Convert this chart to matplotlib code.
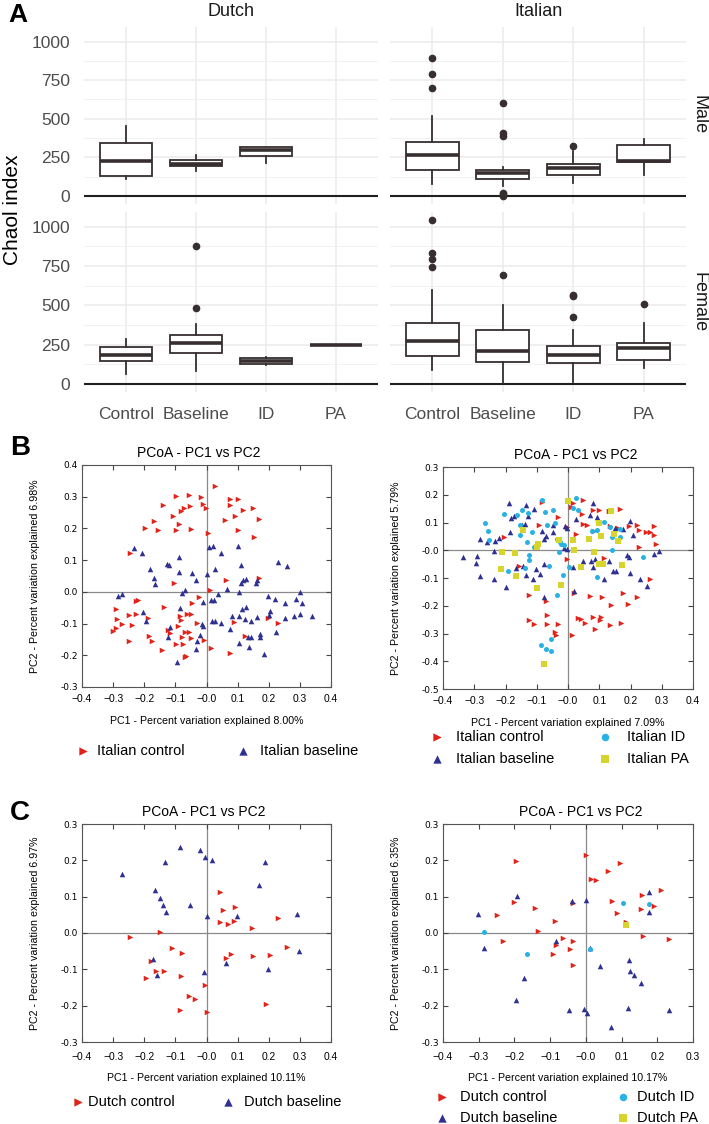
import matplotlib.pyplot as plt
import numpy as np

W, H = 709, 1124
plt.rcParams["font.family"] = ["Liberation Sans", "DejaVu Sans"]
NARROW = ["Liberation Sans Narrow", "Liberation Sans", "DejaVu Sans"]

# ---- panel A: Chao1 boxplots (whislo, q1, med, q3, whishi) ----
groups = ["Control", "Baseline", "ID", "PA"]
dutch_male = [[110, 130, 228, 340, 455], [160, 192, 205, 230, 265], [215, 258, 300, 315, 318]]
dutch_male_fliers = [[], [], []]
italian_male = [[80, 170, 265, 350, 520], [65, 110, 150, 165, 185],
                [85, 135, 180, 210, 290], [135, 218, 228, 330, 370]]
italian_male_fliers = [[700, 790, 895], [0, 10, 22, 390, 405, 600], [322], []]
dutch_female = [[60, 145, 182, 232, 285], [80, 195, 260, 312, 380],
                [118, 125, 145, 162, 168], [245, 245, 245, 245, 245]]
dutch_female_fliers = [[], [480, 875], [], []]
italian_female = [[90, 180, 273, 385, 595], [5, 140, 210, 342, 500],
                  [10, 135, 185, 240, 340], [100, 150, 225, 263, 385]]
italian_female_fliers = [[742, 792, 830, 1042], [696], [424, 561, 567], [506]]
chao_ticks = [0, 250, 500, 750, 1000]

# ---- panel B: Italian PCoA ----
b1_control = [(0.026, 0.335), (-0.099, 0.303), (-0.057, 0.306), (-0.017, 0.300), (0.074, 0.292),
              (0.102, 0.294), (0.075, 0.274), (-0.140, 0.274), (-0.054, 0.272), (-0.010, 0.276),
              (-0.003, 0.263), (-0.071, 0.263), (-0.081, 0.256), (0.149, 0.263), (0.116, 0.259),
              (0.091, 0.240), (-0.107, 0.239), (-0.170, 0.225), (0.059, 0.228), (0.168, 0.231),
              (-0.089, 0.213), (-0.197, 0.202), (-0.156, 0.194), (-0.097, 0.196), (-0.049, 0.197),
              (0.102, 0.194), (0.005, 0.187), (0.154, 0.173), (-0.246, 0.121), (-0.106, 0.027),
              (0.063, 0.038), (0.168, 0.044), (0.011, 0.006), (-0.228, -0.029), (-0.220, -0.025),
              (-0.292, -0.053), (-0.137, -0.047), (-0.025, -0.017), (-0.048, -0.036), (-0.249, -0.072),
              (-0.228, -0.069), (-0.288, -0.085), (-0.271, -0.101), (-0.292, -0.114), (-0.299, -0.123),
              (-0.238, -0.103), (-0.188, -0.082), (-0.184, -0.139), (-0.174, -0.156), (-0.248, -0.154),
              (-0.086, -0.076), (-0.062, -0.069), (-0.049, -0.069), (-0.082, -0.089), (-0.092, -0.107),
              (-0.124, -0.119), (-0.070, -0.126), (-0.055, -0.126), (-0.080, -0.142), (-0.051, -0.147),
              (-0.098, -0.164), (-0.075, -0.164), (-0.144, -0.184), (-0.065, -0.203), (-0.009, -0.153),
              (0.016, -0.177), (-0.029, -0.097), (0.087, -0.095), (0.125, -0.138), (0.230, -0.098),
              (0.198, -0.083), (0.075, -0.193), (-0.116, -0.131), (-0.070, -0.205)]
b1_baseline = [(-0.233, 0.137), (-0.207, 0.123), (0.007, 0.140), (0.020, 0.144), (0.045, 0.123),
               (0.102, 0.144), (-0.126, 0.087), (-0.120, 0.086), (-0.089, 0.111), (-0.180, 0.072),
               (-0.168, 0.044), (-0.164, 0.024), (-0.087, 0.064), (-0.047, 0.058), (-0.035, 0.036),
               (0.001, 0.055), (0.027, 0.071), (0.111, 0.086), (0.111, 0.028), (0.117, 0.037),
               (0.127, 0.041), (0.158, 0.028), (0.163, 0.036), (0.231, 0.093), (0.260, 0.083),
               (-0.283, -0.012), (-0.270, -0.008), (-0.068, 0.005), (-0.079, -0.004), (-0.011, -0.032),
               (0.016, -0.026), (0.025, -0.025), (0.037, -0.008), (0.065, 0.008), (0.104, 0.000),
               (0.198, -0.014), (0.221, -0.023), (0.253, -0.036), (0.286, -0.021), (0.299, -0.001),
               (0.308, -0.034), (0.339, -0.075), (0.299, -0.071), (0.282, -0.076), (0.252, -0.084),
               (0.203, -0.059), (0.200, -0.072), (0.163, -0.078), (0.128, -0.048), (0.114, -0.053),
               (0.104, -0.077), (0.082, -0.077), (0.124, -0.087), (0.144, -0.092), (0.018, -0.091),
               (0.027, -0.093), (0.047, -0.097), (-0.016, -0.101), (-0.012, -0.108), (-0.086, -0.052),
               (-0.203, -0.065), (-0.193, -0.092), (-0.116, -0.111), (-0.125, -0.142), (-0.030, -0.156),
               (-0.022, -0.135), (0.077, -0.118), (0.104, -0.160), (0.133, -0.142), (0.144, -0.142),
               (0.171, -0.134), (0.171, -0.143), (0.223, -0.128), (0.138, -0.174), (0.184, -0.196),
               (-0.035, -0.179), (-0.094, -0.220)]

b2_control = [(-0.084, 0.174), (0.015, 0.172), (0.047, 0.180), (0.009, 0.155), (0.046, 0.130),
              (0.080, 0.144), (0.100, 0.144), (0.132, 0.142), (0.167, 0.150), (0.049, 0.096),
              (0.060, 0.092), (0.083, 0.071), (0.133, 0.088), (0.161, 0.080), (0.194, 0.086),
              (0.220, 0.092), (0.227, 0.072), (0.249, 0.064), (0.261, 0.064), (0.274, 0.088),
              (0.274, 0.054), (0.282, 0.024), (0.227, 0.011), (0.025, 0.059), (-0.003, 0.082),
              (-0.031, 0.120), (-0.093, 0.092), (-0.204, 0.046), (-0.157, -0.055), (-0.002, -0.032),
              (0.114, -0.029), (0.261, -0.103), (-0.124, -0.163), (-0.071, -0.182), (0.018, -0.154),
              (0.071, -0.166), (0.110, -0.167), (0.138, -0.199), (0.177, -0.155), (0.193, -0.193),
              (0.222, -0.169), (-0.067, -0.235), (-0.124, -0.252), (-0.110, -0.264), (-0.068, -0.267),
              (-0.032, -0.267), (0.032, -0.245), (0.043, -0.248), (0.079, -0.241), (0.107, -0.240),
              (0.102, -0.252), (0.055, -0.262), (0.085, -0.282), (0.133, -0.269), (0.169, -0.263),
              (-0.043, -0.293), (-0.038, -0.304), (0.012, -0.306)]
b2_baseline = [(-0.189, 0.170), (-0.135, 0.162), (-0.108, 0.150), (-0.182, 0.116), (-0.173, 0.124),
               (-0.127, 0.122), (-0.138, 0.096), (-0.148, 0.092), (-0.282, 0.040), (-0.260, 0.028),
               (-0.234, 0.035), (-0.221, 0.043), (-0.185, 0.064), (-0.236, -0.002), (-0.335, -0.026),
               (-0.290, -0.019), (-0.295, -0.046), (-0.281, -0.092), (-0.236, -0.102), (-0.199, -0.134),
               (-0.166, -0.064), (-0.144, -0.056), (-0.134, -0.090), (-0.111, -0.103), (-0.102, -0.067),
               (-0.091, -0.084), (-0.076, -0.049), (-0.083, 0.070), (-0.072, 0.053), (-0.077, 0.041),
               (-0.049, 0.065), (-0.010, 0.088), (-0.003, 0.080), (-0.014, 0.008), (-0.004, 0.006),
               (-0.048, 0.092), (0.025, 0.114), (0.080, 0.169), (0.069, 0.126), (0.093, 0.120),
               (0.151, 0.079), (0.198, 0.104), (0.209, 0.054), (0.175, 0.076), (0.049, -0.040),
               (0.081, -0.062), (0.073, -0.038), (0.131, -0.038), (0.144, -0.076), (0.154, -0.076),
               (0.115, -0.104), (0.188, -0.017), (0.194, -0.026), (0.198, -0.082), (0.230, -0.104),
               (0.252, -0.128), (0.276, -0.012), (0.291, -0.001), (0.020, -0.148), (-0.076, -0.170),
               (0.017, -0.062), (0.086, -0.031)]
b2_id = [(-0.083, 0.182), (0.026, 0.190), (0.017, 0.154), (-0.164, 0.128), (-0.205, 0.130),
         (-0.148, 0.146), (-0.128, 0.133), (-0.073, 0.139), (-0.047, 0.144), (-0.267, 0.100),
         (-0.256, 0.070), (-0.254, 0.036), (-0.154, 0.090), (-0.154, 0.055), (-0.130, 0.028),
         (-0.116, 0.067), (-0.110, 0.010), (-0.066, 0.090), (-0.041, 0.098), (-0.034, 0.042),
         (-0.026, 0.029), (-0.013, 0.020), (-0.028, -0.005), (-0.021, 0.022), (-0.126, -0.016),
         (-0.126, -0.036), (-0.191, -0.074), (-0.139, -0.065), (-0.061, -0.058), (0.002, -0.060),
         (-0.017, -0.089), (-0.034, -0.160), (-0.055, -0.321), (-0.087, -0.340), (-0.070, -0.357),
         (-0.056, -0.363), (0.116, 0.102), (0.133, 0.084), (0.142, 0.047), (0.167, 0.076),
         (0.165, 0.049), (0.142, 0.000), (0.239, -0.024), (0.092, -0.098), (0.031, 0.144),
         (0.076, 0.068), (0.094, 0.074)]
b2_pa = [(-0.001, 0.176), (0.137, 0.140), (-0.145, 0.074), (-0.096, 0.022), (-0.100, 0.010),
         (-0.029, 0.037), (0.017, 0.038), (0.019, 0.002), (0.067, 0.041), (0.107, 0.053),
         (0.100, 0.098), (-0.210, -0.008), (-0.170, -0.010), (-0.215, -0.066), (-0.165, -0.091),
         (0.083, -0.008), (0.099, -0.048), (0.112, -0.048), (0.043, -0.062), (0.174, -0.053),
         (-0.100, -0.136), (-0.023, -0.125), (-0.078, -0.411), (0.161, 0.034), (0.147, 0.058)]

# ---- panel C: Dutch PCoA ----
c1_control = [(0.044, 0.112), (0.052, 0.062), (0.092, 0.071), (0.043, 0.031), (0.070, 0.025),
              (0.087, 0.033), (0.147, 0.013), (0.229, 0.040), (-0.151, 0.003), (-0.246, -0.012),
              (-0.110, -0.041), (-0.079, -0.055), (0.260, -0.038), (0.079, -0.057), (0.063, -0.068),
              (0.149, -0.062), (0.203, -0.060), (-0.178, -0.077), (-0.162, -0.104), (-0.138, -0.105),
              (-0.195, -0.125), (-0.082, -0.117), (-0.004, -0.142), (-0.056, -0.174), (-0.037, -0.182),
              (0.191, -0.195), (-0.086, -0.212), (0.000, -0.217)]
c1_baseline = [(-0.084, 0.237), (-0.022, 0.229), (-0.005, 0.209), (0.019, 0.202), (-0.132, 0.195),
               (0.189, 0.195), (-0.271, 0.162), (0.170, 0.132), (-0.166, 0.117), (-0.149, 0.096),
               (-0.140, 0.077), (-0.053, 0.078), (-0.130, 0.059), (0.000, 0.048), (0.099, 0.046),
               (0.291, 0.053), (0.297, -0.050), (-0.171, -0.072), (0.062, -0.082), (0.196, -0.100),
               (-0.158, -0.115), (-0.007, -0.107)]
c2_control = [(0.001, 0.216), (-0.197, 0.197), (0.096, 0.194), (0.061, 0.171), (0.015, 0.149),
              (0.028, 0.145), (0.157, 0.104), (0.210, 0.118), (-0.201, 0.086), (-0.035, 0.082),
              (0.074, 0.089), (-0.142, 0.068), (-0.249, 0.050), (0.088, 0.054), (0.154, 0.065),
              (0.190, 0.074), (-0.086, 0.032), (0.113, 0.030), (-0.133, 0.006), (-0.231, -0.023),
              (-0.063, -0.015), (-0.084, -0.034), (-0.035, -0.023), (-0.044, -0.043), (-0.092, -0.059),
              (0.159, -0.007), (0.234, -0.017), (-0.035, -0.088)]
c2_baseline = [(0.176, 0.114), (-0.192, 0.103), (-0.039, 0.088), (0.001, 0.092), (-0.302, 0.053),
               (0.177, 0.059), (-0.085, -0.023), (-0.285, -0.041), (0.012, -0.041), (0.120, -0.073),
               (0.039, -0.090), (0.124, -0.104), (0.135, -0.116), (0.153, -0.137), (-0.173, -0.123),
               (-0.197, -0.185), (-0.047, -0.212), (-0.005, -0.210), (0.003, -0.221), (0.118, -0.207),
               (0.232, -0.212), (0.070, -0.260)]
c2_id = [(0.103, 0.083), (0.176, 0.081), (-0.284, 0.003), (-0.165, -0.057), (0.012, -0.043)]
c2_pa = [(0.111, 0.023)]

RED, BLUE, CYAN, YELLOW = "#e2231a", "#2e3192", "#27b2e3", "#d7d42e"
BOX = "#372f2f"

fig = plt.figure(figsize=(W / 100, H / 100), dpi=100)


def px_axes(x0, y0, x1, y1):
    return fig.add_axes((x0 / W, 1 - y1 / H, (x1 - x0) / W, (y1 - y0) / H))


# ---------------- panel A ----------------
facets = [
    (dutch_male, dutch_male_fliers, (84, 27, 378, 204), True, False),
    (italian_male, italian_male_fliers, (390, 27, 686, 204), False, False),
    (dutch_female, dutch_female_fliers, (84, 212, 378, 392), True, True),
    (italian_female, italian_female_fliers, (390, 212, 686, 392), False, True),
]
for summ, fliers, box, left, bottom in facets:
    ax = px_axes(*box)
    stats = [dict(whislo=s[0], q1=s[1], med=s[2], q3=s[3], whishi=s[4], fliers=f)
             for s, f in zip(summ, fliers)]
    ax.bxp(stats, positions=np.arange(1, len(stats) + 1), widths=0.75, showcaps=False,
           patch_artist=True, manage_ticks=False,
           boxprops=dict(facecolor="white", edgecolor=BOX, lw=1.3),
           whiskerprops=dict(color=BOX, lw=1.3),
           medianprops=dict(color=BOX, lw=2.6, solid_capstyle="butt"),
           flierprops=dict(marker="o", markerfacecolor=BOX, markeredgecolor=BOX, markersize=4.5))
    ax.set_xlim(0.4, 4.6)
    ax.set_ylim(-52, 1094)
    ax.set_yticks(chao_ticks)
    ax.set_yticks([125, 375, 625, 875], minor=True)
    ax.set_xticks(np.arange(1, len(groups) + 1))
    ax.set_xticklabels(groups)
    ax.set_yticklabels([str(t) for t in chao_ticks])
    ax.grid(which="major", color="#ebebeb", lw=1.1, zorder=0)
    ax.grid(which="minor", axis="y", color="#f2f2f2", lw=0.7, zorder=0)
    ax.set_axisbelow(True)
    ax.axhline(0, color="#1f1f1f", lw=1.5, zorder=1)
    for sp in ax.spines.values():
        sp.set_visible(False)
    ax.tick_params(which="both", length=0, labelsize=12.5, labelcolor="#4d4d4d",
                   labelleft=left, labelbottom=bottom)
    ax.tick_params(axis="y", pad=10)
    ax.tick_params(axis="x", pad=11)

fig.text(8 / W, 1 - 15 / H, "A", fontsize=19, weight="bold", va="center")
fig.text(231 / W, 1 - 11 / H, "Dutch", fontsize=13, color="#1a1a1a", ha="center", va="center")
fig.text(538 / W, 1 - 11 / H, "Italian", fontsize=13, color="#1a1a1a", ha="center", va="center")
fig.text(699 / W, 1 - 115 / H, "Male", fontsize=13, color="#1a1a1a", rotation=-90,
         ha="center", va="center")
fig.text(699 / W, 1 - 302 / H, "Female", fontsize=13, color="#1a1a1a", rotation=-90,
         ha="center", va="center")
fig.text(13 / W, 1 - 210 / H, "Chaol index", fontsize=15, rotation=90, ha="center", va="center")


# ---------------- PCoA panels ----------------
def pcoa(box, xlim, ylim, xlab, ylab, title_x, series):
    ax = px_axes(*box)
    h = box[3] - box[1]
    ax.set_xlim(*xlim)
    ax.set_ylim(*ylim)
    ax.axhline(0, color="#8a8a8a", lw=0.9, zorder=1)
    ax.axvline(0, color="#8a8a8a", lw=0.9, zorder=1)
    xt = np.round(np.arange(xlim[0], xlim[1] + 0.001, 0.1), 1)
    yt = np.round(np.arange(ylim[0], ylim[1] + 0.001, 0.1), 1)
    ax.set_xticks(xt)
    ax.set_yticks(yt)
    ax.set_xticklabels([f"{v:.1f}".replace("-", "\u2212") for v in xt], family=NARROW,
                       fontsize=7.4)
    ax.set_yticklabels([f"{v:.1f}" for v in yt], family="DejaVu Sans", fontsize=6.5)
    ax.tick_params(direction="in", top=True, right=True, length=3.5, width=0.8, color="#444444")
    ax.tick_params(axis="y", pad=3)
    ax.tick_params(axis="x", pad=5 if h > 220 else 7)
    for sp in ax.spines.values():
        sp.set_color("#555555")
        sp.set_linewidth(0.8)
    ax.text(title_x, 1 + 12 / h, "PCoA - PC1 vs PC2", transform=ax.transAxes, ha="center",
            va="center", family=NARROW, fontsize=10)
    ax.set_xlabel(xlab, family=NARROW, fontsize=7.7, va="center")
    ax.xaxis.set_label_coords(0.5, -(34 if h > 220 else 36) / h)
    ax.set_ylabel(ylab, family=NARROW, fontsize=7.7, va="center")
    ax.yaxis.set_label_coords(-0.187, 0.5)
    handles = []
    for pts, marker, color, size in series:
        xy = np.array(pts)
        handles.append(ax.scatter(xy[:, 0], xy[:, 1], marker=marker, s=size, c=color,
                                  linewidths=0, zorder=3))
    return handles


def key(handle, label, mx, tx, y):
    fs = 10.5 * 100 / 72
    hl = 0.8
    fig.legend([handle], [label], loc="center left",
               bbox_to_anchor=((mx - hl * fs / 2) / W, 1 - y / H),
               frameon=False, borderpad=0, borderaxespad=0, handlelength=hl,
               handletextpad=(tx - mx - hl * fs / 2) / fs, fontsize=10.5, markerscale=1.5,
               scatterpoints=1)


b1 = pcoa((82, 465, 331, 687), (-0.4, 0.4), (-0.3, 0.4),
          "PC1 - Percent variation explained 8.00%",
          "PC2 - Percent variation explained 6.98%", 0.47,
          [(b1_control, ">", RED, 16), (b1_baseline, "^", BLUE, 16)])
b2 = pcoa((443, 467, 693, 689), (-0.4, 0.4), (-0.5, 0.3),
          "PC1 - Percent variation explained 7.09%",
          "PC2 - Percent variation explained 5.79%", 0.53,
          [(b2_control, ">", RED, 16), (b2_baseline, "^", BLUE, 16),
           (b2_id, "o", CYAN, 13), (b2_pa, "s", YELLOW, 15)])
c1 = pcoa((82, 824, 331, 1042), (-0.4, 0.4), (-0.3, 0.3),
          "PC1 - Percent variation explained 10.11%",
          "PC2 - Percent variation explained 6.97%", 0.49,
          [(c1_control, ">", RED, 16), (c1_baseline, "^", BLUE, 16)])
c2 = pcoa((443, 824, 693, 1042), (-0.4, 0.3), (-0.3, 0.3),
          "PC1 - Percent variation explained 10.17%",
          "PC2 - Percent variation explained 6.35%", 0.55,
          [(c2_control, ">", RED, 16), (c2_baseline, "^", BLUE, 16),
           (c2_id, "o", CYAN, 13), (c2_pa, "s", YELLOW, 15)])

key(b1[0], "Italian control", 83, 97, 751)
key(b1[1], "Italian baseline", 243, 260, 751)
key(b2[0], "Italian control", 437, 456, 737)
key(b2[1], "Italian baseline", 437, 456, 759)
key(b2[2], "Italian ID", 605, 627, 737)
key(b2[3], "Italian PA", 605, 627, 759)
key(c1[0], "Dutch control", 78, 88, 1102)
key(c1[1], "Dutch baseline", 228, 244, 1102)
key(c2[0], "Dutch control", 442, 460, 1097)
key(c2[1], "Dutch baseline", 442, 460, 1118)
key(c2[2], "Dutch ID", 623, 637, 1097)
key(c2[3], "Dutch PA", 623, 637, 1118)

fig.text(10 / W, 1 - 448 / H, "B", fontsize=20, weight="bold", va="center")
fig.text(10 / W, 1 - 813 / H, "C", fontsize=20, weight="bold", va="center")

fig.savefig("out.png", dpi=100)
